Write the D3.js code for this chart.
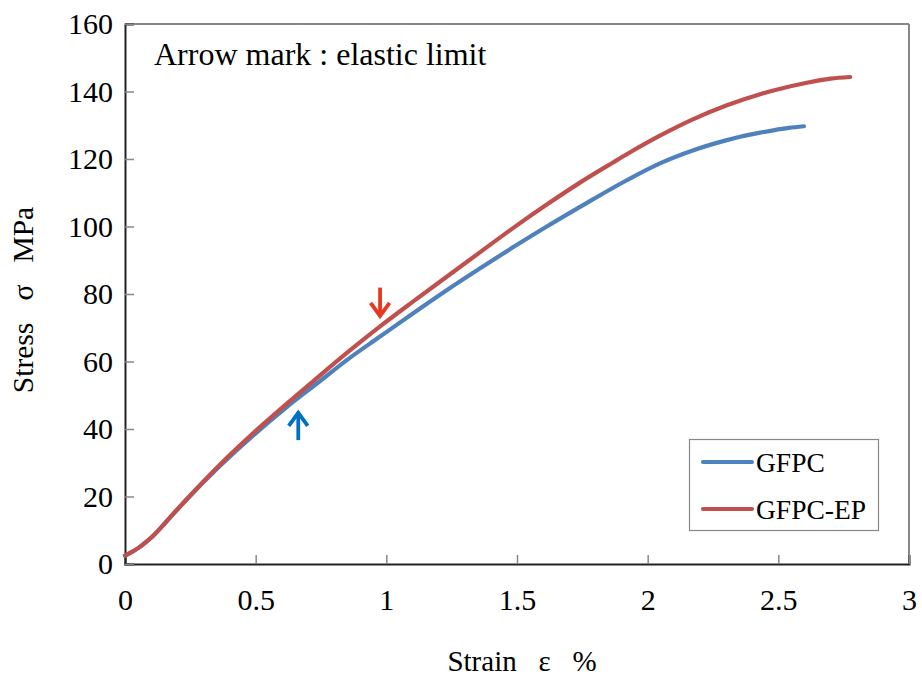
<!DOCTYPE html>
<html>
<head>
<meta charset="utf-8">
<script src="https://cdn.jsdelivr.net/npm/d3@7/dist/d3.min.js"></script>
<style>
  html, body { margin: 0; padding: 0; background: #fff; }
  svg { display: block; }
</style>
</head>
<body>
<svg id="chart" width="922" height="681"></svg>
<script>
// Stress–strain curves, strain in %, stress in MPa
const gfpcStrain   = [0, 0.025, 0.05, 0.08, 0.108, 0.14, 0.172, 0.236, 0.364, 0.491, 0.619, 0.733, 0.85, 0.976, 1.103, 1.231, 1.359, 1.486, 1.614, 1.741, 1.792, 1.92, 2.047, 2.175, 2.303, 2.354, 2.43, 2.481, 2.54, 2.598];
const gfpcStress   = [2.5, 3.5, 4.7, 6.5, 8.4, 11.0, 13.7, 19.1, 29.1, 38.1, 46.5, 53.4, 60.5, 67.4, 74.3, 81.1, 87.6, 93.9, 100.0, 105.8, 108.1, 113.7, 118.7, 122.6, 125.6, 126.6, 127.8, 128.5, 129.2, 129.7];
const gfpcepStrain = [0, 0.025, 0.05, 0.08, 0.108, 0.14, 0.172, 0.236, 0.364, 0.491, 0.619, 0.733, 0.85, 0.976, 1.103, 1.231, 1.359, 1.486, 1.614, 1.741, 1.866, 1.92, 2.047, 2.175, 2.303, 2.43, 2.481, 2.609, 2.7, 2.775];
const gfpcepStress = [2.5, 3.5, 4.7, 6.5, 8.4, 11.0, 13.8, 19.2, 29.5, 38.8, 47.5, 55.0, 62.6, 70.4, 77.8, 85.1, 92.4, 99.6, 106.5, 113.0, 118.9, 121.4, 126.9, 131.8, 135.9, 139.2, 140.3, 142.6, 143.8, 144.3];

// Elastic-limit arrows: strain, stress at the tip, stress at the tail
const limitStrain     = [0.663, 0.976];
const limitTipStress  = [45.4, 72.9];
const limitTailStress = [36.7, 81.9];

const seriesNames = ["GFPC", "GFPC-EP"];
const xTicks = [0, 0.5, 1, 1.5, 2, 2.5, 3];
const yTicks = [0, 20, 40, 60, 80, 100, 120, 140, 160];

const lineColors  = ["#4F81BD", "#C0504D"];
const arrowColors = ["#0070C0", "#E8381F"];
const serif = '"Liberation Serif", "Times New Roman", "DejaVu Serif", serif';

const svg = d3.select("#chart");
const plotL = 125, plotR = 909, plotT = 24, plotB = 564;

const x = d3.scaleLinear().domain([0, 3]).range([plotL, plotR]);
const y = d3.scaleLinear().domain([0, 160]).range([plotB, plotT]);

// Frame: grey top/right, black left/bottom axes
svg.append("line").attr("x1", plotL).attr("x2", plotR).attr("y1", plotT).attr("y2", plotT)
  .attr("stroke", "#888").attr("stroke-width", 2);
svg.append("line").attr("x1", plotR).attr("x2", plotR).attr("y1", plotT).attr("y2", plotB)
  .attr("stroke", "#888").attr("stroke-width", 2);

// Axes with inward ticks
const xAxis = d3.axisBottom(x).tickValues(xTicks).tickSize(-9).tickPadding(26)
  .tickFormat(d => String(d));
const yAxis = d3.axisLeft(y).tickValues(yTicks).tickSize(-9).tickPadding(12)
  .tickFormat(d => String(d));

const gx = svg.append("g").attr("transform", `translate(0,${plotB})`).call(xAxis);
const gy = svg.append("g").attr("transform", `translate(${plotL},0)`).call(yAxis);
[gx, gy].forEach(g => {
  g.attr("font-family", serif).attr("font-size", 30);
  g.select(".domain").attr("stroke", "#222").attr("stroke-width", 2);
  g.selectAll(".tick line").attr("stroke", "#888").attr("stroke-width", 1.5);
  g.selectAll(".tick text").attr("fill", "#000");
});
gx.selectAll(".tick text").attr("dy", "0.68em");

// Curves
const line = d3.line().x(d => x(d[0])).y(d => y(d[1])).curve(d3.curveMonotoneX);
const series = [
  d3.zip(gfpcStrain, gfpcStress),
  d3.zip(gfpcepStrain, gfpcepStress)
];
series.forEach((pts, i) => {
  svg.append("path").datum(pts).attr("d", line)
    .attr("fill", "none").attr("stroke", lineColors[i])
    .attr("stroke-width", 4.2).attr("stroke-linecap", "round").attr("stroke-linejoin", "round");
});

// Elastic-limit arrows
limitStrain.forEach((s, i) => {
  const ax = x(s), tipY = y(limitTipStress[i]), tailY = y(limitTailStress[i]);
  const dir = tailY > tipY ? 1 : -1; // 1: arrow points up
  const g = svg.append("g").attr("stroke", arrowColors[i]).attr("stroke-width", 3.8)
    .attr("fill", "none").attr("stroke-linecap", "butt");
  g.append("line").attr("x1", ax).attr("x2", ax).attr("y1", tipY + dir * 2).attr("y2", tailY);
  g.append("path").attr("d", `M${ax - 9.5},${tipY + dir * 15} L${ax},${tipY + dir * 2} L${ax + 9.5},${tipY + dir * 15}`)
    .attr("stroke-linejoin", "miter");
});

// Annotation
svg.append("text").attr("x", 154).attr("y", 65).attr("font-family", serif).attr("font-size", 32)
  .text("Arrow mark : elastic limit");

// Axis titles
svg.append("text").attr("x", 522).attr("y", 671).attr("text-anchor", "middle")
  .attr("font-family", serif).attr("font-size", 29)
  .attr("xml:space", "preserve").text("Strain   ε   %");
svg.append("text").attr("transform", "translate(33,300) rotate(-90)").attr("text-anchor", "middle")
  .attr("font-family", serif).attr("font-size", 29.5)
  .attr("xml:space", "preserve").text("Stress   σ   MPa");

// Legend
const lg = svg.append("g");
lg.append("rect").attr("x", 689.5).attr("y", 439.5).attr("width", 189).attr("height", 91)
  .attr("fill", "#fff").attr("stroke", "#888").attr("stroke-width", 1.2);
seriesNames.forEach((name, i) => {
  const ly = 462 + i * 47;
  lg.append("line").attr("x1", 703).attr("x2", 752).attr("y1", ly).attr("y2", ly)
    .attr("stroke", lineColors[i]).attr("stroke-width", 4.2).attr("stroke-linecap", "round");
  lg.append("text").attr("x", 756).attr("y", ly + 10).attr("font-family", serif)
    .attr("font-size", 27.5).text(name);
});
</script>
</body>
</html>
